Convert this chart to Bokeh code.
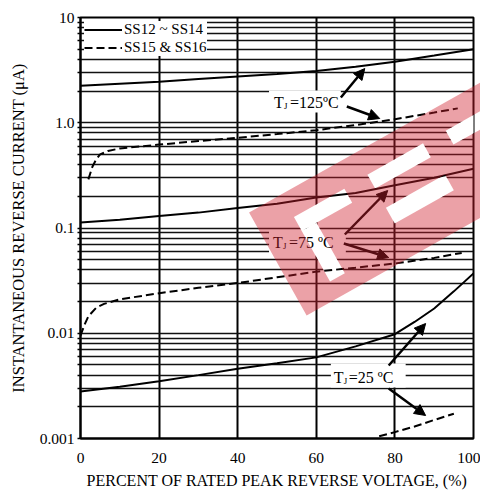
import math
from bokeh.plotting import figure
from bokeh.models import (Range1d, FixedTicker, Label, Arrow, NormalHead,
                          Legend, LegendItem, Title)
from bokeh.embed import file_html
from bokeh.resources import INLINE

# ---------------- data ----------------
x_ticks = [0, 20, 40, 60, 80, 100]
y_ticks = [0.001, 0.01, 0.1, 1, 10]
y_tick_labels = ["0.001", "0.01", "0.1", "1.0", "10"]

# SS12~SS14 (solid) and SS15 & SS16 (dashed), per junction temperature
s125_x = [0, 10, 20, 30, 40, 50, 60, 70, 80, 90, 100]
s125_y = [2.25, 2.35, 2.45, 2.6, 2.75, 2.9, 3.1, 3.4, 3.8, 4.35, 5.0]
d125_x = [2, 3, 4, 5, 7, 10, 20, 30, 40, 50, 60, 70, 80, 90, 96]
d125_y = [0.29, 0.38, 0.45, 0.5, 0.54, 0.57, 0.62, 0.67, 0.72, 0.78, 0.85, 0.95, 1.08, 1.25, 1.37]

s75_x = [0, 10, 20, 30, 40, 50, 60, 70, 80, 90, 100]
s75_y = [0.113, 0.12, 0.13, 0.14, 0.155, 0.17, 0.195, 0.215, 0.255, 0.3, 0.365]
d75_x = [0, 1, 2, 4, 6, 10, 20, 30, 40, 50, 60, 70, 80, 90, 97]
d75_y = [0.0095, 0.012, 0.0145, 0.0175, 0.019, 0.021, 0.024, 0.027, 0.030, 0.034, 0.0385, 0.042, 0.046, 0.052, 0.058]

s25_x = [0, 10, 20, 30, 40, 50, 60, 70, 80, 85, 90, 95, 100]
s25_y = [0.0028, 0.0031, 0.0035, 0.004, 0.0046, 0.0052, 0.0059, 0.0075, 0.0098, 0.0128, 0.0172, 0.025, 0.037]
d25_x = [76, 80, 85, 90, 95]
d25_y = [0.00105, 0.00115, 0.0013, 0.0015, 0.00172]

legend_labels = ["SS12 ~ SS14", "SS15 & SS16"]
x_title = "PERCENT OF RATED PEAK REVERSE VOLTAGE, (%)"
y_title = "INSTANTANEOUS REVERSE CURRENT (\u03bcA)"

FONT = "Liberation Serif"

# pixel -> data helpers (frame pinned at px 79..473 x 17..438)
FL, FR, FT, FB = 79, 473, 17, 438
W, H = 480, 493
def px2x(px):
    return (px - FL) / (FR - FL) * 100.0
def py2y(py):
    return 10 ** (1 - (py - FT) / (FB - FT) * 4.0)

p = figure(width=W, height=H,
           x_range=Range1d(0, 100), y_range=Range1d(0.001, 10),
           y_axis_type="log", output_backend="svg", toolbar_location=None,
           min_border_left=FL, min_border_right=W - FR,
           min_border_top=FT, min_border_bottom=H - FB)
p.background_fill_color = "white"
p.border_fill_color = "white"
p.outline_line_color = "black"
p.outline_line_width = 2

# axes / ticks
p.xaxis.ticker = FixedTicker(ticks=x_ticks)
minor = [k * 10.0 ** e for e in range(-3, 1) for k in range(2, 10)]
p.yaxis.ticker = FixedTicker(ticks=y_ticks, minor_ticks=minor)
p.yaxis.major_label_overrides = {t: l for t, l in zip(y_ticks, y_tick_labels)}
for ax in (p.xaxis[0], p.yaxis[0]):
    ax.axis_line_color = "black"
    ax.axis_line_width = 2
    ax.major_label_text_font = FONT
    ax.major_label_text_font_size = "15.5px"
    ax.major_label_text_color = "black"
p.xaxis.major_tick_out = 0
p.xaxis.major_tick_in = 0
p.xaxis.minor_tick_line_color = None
p.xaxis.major_label_standoff = 14
p.yaxis.major_tick_out = 3
p.yaxis.major_tick_in = 0
p.yaxis.minor_tick_out = 3
p.yaxis.minor_tick_in = 0
p.yaxis.major_tick_line_width = 1.5
p.yaxis.minor_tick_line_width = 1.5
p.yaxis.major_label_standoff = 3

# axis titles as side-panel titles
p.add_layout(Title(text=y_title, align="center", vertical_align="middle",
                   standoff=15, text_font=FONT,
                   text_font_size="16.5px", text_font_style="normal",
                   text_color="black"), "left")
p.add_layout(Title(text=x_title, align="center", vertical_align="bottom",
                   standoff=8, text_font=FONT,
                   text_font_size="16px", text_font_style="normal",
                   text_color="black"), "below")

# grids
p.xgrid.ticker = FixedTicker(ticks=x_ticks[1:-1])
p.xgrid.grid_line_color = "black"
p.xgrid.grid_line_width = 2
p.ygrid.ticker = FixedTicker(ticks=y_ticks, minor_ticks=minor)
p.ygrid.grid_line_color = "#111111"
p.ygrid.grid_line_width = 1.6
p.ygrid.minor_grid_line_color = "#111111"
p.ygrid.minor_grid_line_width = 1.6

# ---------------- watermark geometry (px) ----------------
A = (248.0, 212.0)
u = (0.872, -0.489)
n = (0.489, 0.872)
def band_pt(s, t):
    return (A[0] + s * u[0] + t * n[0], A[1] + s * u[1] + t * n[1])
def rect_poly(s0, s1, t0, t1):
    pts = [band_pt(s0, t0), band_pt(s1, t0), band_pt(s1, t1), band_pt(s0, t1)]
    return [px2x(a) for a, b in pts], [py2y(b) for a, b in pts]

cutouts = [(37, 95, 26, 42), (37, 54, 42, 100), (122, 186, 25, 41),
           (122, 190, 63, 81), (212, 268, 25, 41)]
cut_polys = [rect_poly(*c) for c in cutouts]

# white cut-outs hide the grid (drawn below curves)
p.patches([c[0] for c in cut_polys], [c[1] for c in cut_polys],
          fill_color="white", line_color=None)

# white boxes behind the temperature labels
boxes = [(268, 340, 90, 112), (268, 345, 230, 255), (330, 405, 363, 387)]
p.quad(left=[px2x(b[0]) for b in boxes], right=[px2x(b[1]) for b in boxes],
       top=[py2y(b[2]) for b in boxes], bottom=[py2y(b[3]) for b in boxes],
       fill_color="white", line_color=None)

# ---------------- curves ----------------
DASH = "8 4"
r_s125 = p.line(s125_x, s125_y, line_color="black", line_width=2)
r_d125 = p.line(d125_x, d125_y, line_color="black", line_width=2, line_dash=DASH)
p.line(s75_x, s75_y, line_color="black", line_width=2)
p.line(d75_x, d75_y, line_color="black", line_width=2, line_dash=DASH)
p.line(s25_x, s25_y, line_color="black", line_width=2)
p.line(d25_x, d25_y, line_color="black", line_width=2, line_dash=DASH)

legend = Legend(items=[LegendItem(label=legend_labels[0], renderers=[r_s125]),
                       LegendItem(label=legend_labels[1], renderers=[r_d125])],
                location="top_left", margin=4, padding=4, spacing=1,
                glyph_width=38, glyph_height=15, label_height=15,
                label_standoff=2, border_line_color=None,
                background_fill_color="white", background_fill_alpha=1,
                label_text_font=FONT, label_text_font_size="15px",
                label_text_color="black")
p.add_layout(legend)

# ---------------- annotations ----------------
def tj_label(px, py, rest, rest_px):
    p.add_layout(Label(x=px2x(px), y=py2y(py), text="T", text_font=FONT,
                       text_font_size="16px", text_baseline="middle",
                       text_color="black"))
    p.add_layout(Label(x=px2x(px + 10), y=py2y(py + 3), text="J", text_font=FONT,
                       text_font_size="9px", text_baseline="middle",
                       text_color="black"))
    p.add_layout(Label(x=px2x(rest_px), y=py2y(py), text=rest, text_font=FONT,
                       text_font_size="16px", text_baseline="middle",
                       text_color="black"))

tj_label(273, 102, "=125\u00baC", 289)
tj_label(272, 242, "=75 \u00baC", 288)
tj_label(333, 377, "=25 \u00baC", 348)

arrows = [((340, 97), (364, 68)), ((346, 106), (379, 118)),
          ((344, 234), (387, 190)), ((343, 243), (388, 257)),
          ((388, 365), (425, 323)), ((388, 388), (425, 415))]
for (x0, y0), (x1, y1) in arrows:
    p.add_layout(Arrow(end=NormalHead(size=11, fill_color="black", line_color="black"),
                       x_start=px2x(x0), y_start=py2y(y0),
                       x_end=px2x(x1), y_end=py2y(y1),
                       line_color="black", line_width=2.5))

# red translucent watermark band (with letter cut-outs) on top
L = 330
outer = [band_pt(0, 0), band_pt(L, 0), band_pt(L, 118), band_pt(0, 118)]
ox = [px2x(a) for a, b in outer]
oy = [py2y(b) for a, b in outer]
p.multi_polygons(xs=[[[ox] + [c[0] for c in cut_polys]]],
                 ys=[[[oy] + [c[1] for c in cut_polys]]],
                 fill_color="#d0202e", fill_alpha=0.42, line_color=None,
                 level="overlay")

open("out.html", "w").write(file_html(p, INLINE))
